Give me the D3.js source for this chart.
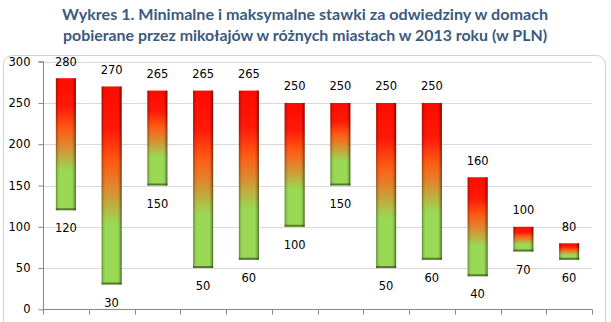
<!DOCTYPE html>
<html><head><meta charset="utf-8">
<script src="https://cdn.jsdelivr.net/npm/d3@7"></script>
<style>body{margin:0;background:#fff}svg{display:block}</style>
</head><body>
<script>
const cities = ["1","2","3","4","5","6","7","8","9","10","11","12"];
const minValues = [120, 30, 150, 50, 60, 100, 150, 50, 60, 40, 70, 60];
const maxValues = [280, 270, 265, 265, 265, 250, 250, 250, 250, 160, 100, 80];
const yTicks = [0, 50, 100, 150, 200, 250, 300];
const titleLines = ["Wykres 1. Minimalne i maksymalne stawki za odwiedziny w domach",
                    "pobierane przez mikołajów w różnych miastach w 2013 roku (w PLN)"];

const W = 611, H = 322;
const svg = d3.select("body").append("svg").attr("width", W).attr("height", H);
const defs = svg.append("defs");

const vg = defs.append("linearGradient").attr("id","vg").attr("x1",0).attr("y1",1).attr("x2",0).attr("y2",0);
[[0,"#9ad955"],[0.3,"#9ad955"],[0.5,"#e2842c"],[0.62,"#ff5a14"],[0.78,"#ff1a08"],[1,"#ff0a00"]]
  .forEach(s => vg.append("stop").attr("offset",s[0]).attr("stop-color",s[1]));
const hg = defs.append("linearGradient").attr("id","hg").attr("x1",0).attr("y1",0).attr("x2",1).attr("y2",0);
[[0,"rgba(0,0,0,0.35)"],[0.1,"rgba(0,0,0,0.08)"],[0.2,"rgba(0,0,0,0)"],[0.8,"rgba(0,0,0,0)"],[0.9,"rgba(0,0,0,0.15)"],[1,"rgba(0,0,0,0.55)"]]
  .forEach(s => hg.append("stop").attr("offset",s[0]).attr("stop-color",s[1]));

// frame
svg.append("rect").attr("x",3.5).attr("y",55.5).attr("width",602).attr("height",290)
  .attr("rx",9).attr("fill","#fff").attr("stroke","#d0d0d0");

// title
svg.selectAll("text.title").data(titleLines).join("text")
  .attr("x", 305).attr("y",(d,i)=>20+i*21).attr("text-anchor","middle")
  .attr("font-family","Lato, 'Open Sans', sans-serif").attr("font-weight","bold")
  .attr("font-size",15).attr("fill","#3a5a80")
  .attr("textLength",(d,i)=> i===0?486:484).attr("lengthAdjust","spacingAndGlyphs")
  .text(d=>d);

const x = d3.scaleBand().domain(cities).range([43, 592]).padding(0);
const y = d3.scaleLinear().domain([0,300]).range([309.3, 61.7]);

// grid
svg.append("g").selectAll("line").data(yTicks.filter(t=>t>0)).join("line")
  .attr("x1",43).attr("x2",592).attr("y1",d=>Math.round(y(d))+0.5).attr("y2",d=>Math.round(y(d))+0.5)
  .attr("stroke","#d9d9d9");

// y axis
const ya = svg.append("g").attr("transform","translate(43.5,0)")
  .call(d3.axisLeft(y).tickValues(yTicks).tickSize(5).tickPadding(8));
ya.select(".domain").attr("stroke","#888").attr("d","M-5,"+y(300)+"H0V"+y(0));
ya.selectAll(".tick line").attr("stroke","#888");
ya.selectAll(".tick text").attr("font-family","'DejaVu Sans', sans-serif").attr("font-size",11.5).attr("fill","#000");

// x axis
const xa = svg.append("g").attr("transform","translate(0,"+(Math.round(y(0))+0.5)+")");
xa.append("line").attr("x1",43).attr("x2",592).attr("stroke","#888");
xa.selectAll("line.t").data(d3.range(cities.length+1)).join("line")
  .attr("x1",i=>Math.round(43+i*x.bandwidth())+0.5).attr("x2",i=>Math.round(43+i*x.bandwidth())+0.5)
  .attr("y1",0).attr("y2",5).attr("stroke","#888");

const bw = 20;
const data = cities.map((c,i)=>({c, lo:minValues[i], hi:maxValues[i]}));
const bars = svg.append("g").selectAll("g").data(data).join("g");
bars.append("rect")
  .attr("x",d=>x(d.c)+x.bandwidth()/2-bw/2).attr("width",bw)
  .attr("y",d=>y(d.hi)).attr("height",d=>y(d.lo)-y(d.hi)).attr("fill","url(#vg)");
bars.append("rect")
  .attr("x",d=>x(d.c)+x.bandwidth()/2-bw/2).attr("width",bw)
  .attr("y",d=>y(d.hi)).attr("height",d=>y(d.lo)-y(d.hi)).attr("fill","url(#hg)");
bars.append("rect")
  .attr("x",d=>x(d.c)+x.bandwidth()/2-bw/2).attr("width",bw)
  .attr("y",d=>y(d.lo)-2).attr("height",2).attr("fill","rgba(40,60,20,0.6)");

const lab = g => g.attr("text-anchor","middle").attr("font-family","'DejaVu Sans', sans-serif")
  .attr("font-size",11.5).attr("fill","#000");
bars.append("text").call(lab).attr("x",d=>x(d.c)+x.bandwidth()/2).attr("y",d=>y(d.hi)-12.5).text(d=>d.hi);
bars.append("text").call(lab).attr("x",d=>x(d.c)+x.bandwidth()/2).attr("y",d=>y(d.lo)+22).text(d=>d.lo);
</script>
</body></html>
